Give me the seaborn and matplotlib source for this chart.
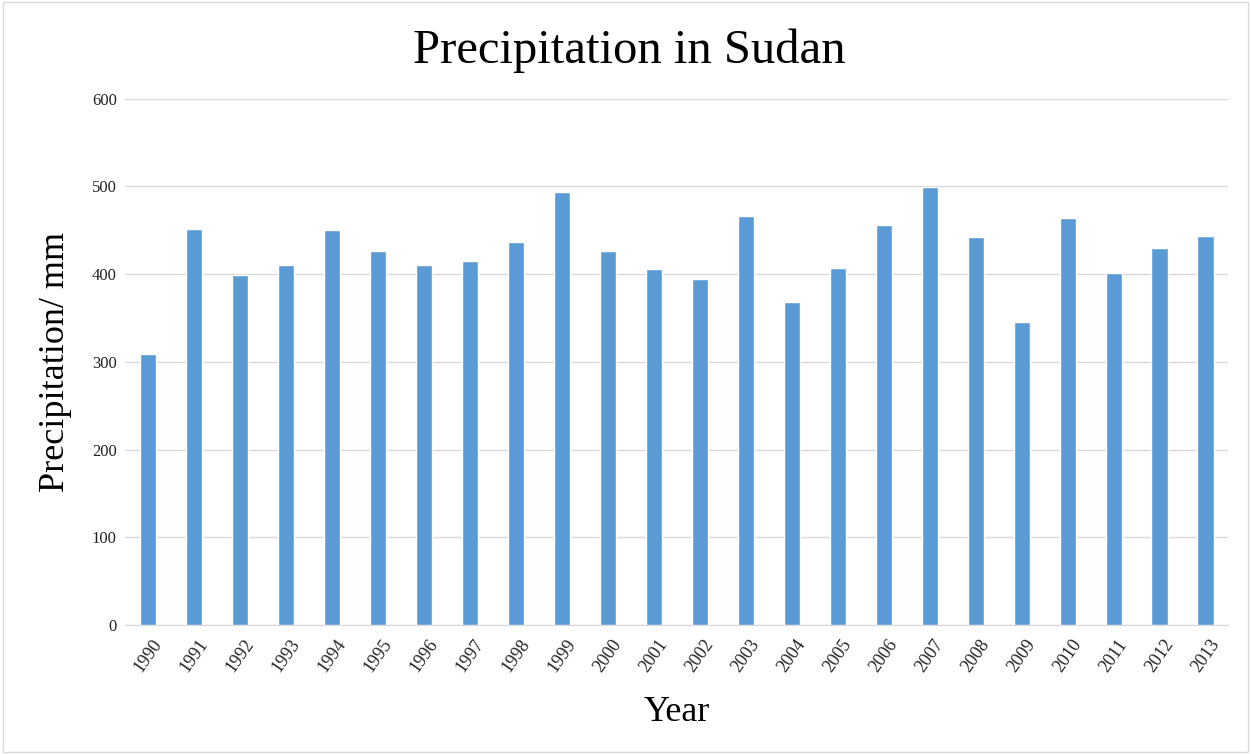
import numpy as np
import pandas as pd
import matplotlib.pyplot as plt
import seaborn as sns

# data
years = [str(y) for y in range(1990, 2014)]
precip = [309, 452, 399, 411, 450, 427, 411, 415, 437, 494, 427, 406,
          394, 466, 368, 407, 456, 499, 442, 346, 464, 401, 430, 444]
y_ticks = [0, 100, 200, 300, 400, 500, 600]

df = pd.DataFrame({"Year": years, "Precipitation": precip})

sns.set_style("white")
plt.rcParams['font.family'] = ['Liberation Serif', 'DejaVu Serif']

fig = plt.figure(figsize=(12.51, 7.54), dpi=100)
ax = fig.add_axes([0.1, 0.171, 0.882, 0.698])

sns.barplot(data=df, x="Year", y="Precipitation", color="#5B9BD5",
            width=0.35, saturation=1, ax=ax, zorder=3)

ax.set_ylim(0, 600)
ax.set_yticks(y_ticks)
ax.yaxis.grid(True, color="#D9D9D9", linewidth=1, zorder=0)
ax.set_axisbelow(True)
for s in ["top", "right", "left"]:
    ax.spines[s].set_visible(False)
ax.spines["bottom"].set_color("#D9D9D9")
ax.tick_params(length=0)
ax.tick_params(axis="y", labelsize=12, colors="#222222", pad=6)
ax.tick_params(axis="x", labelsize=13, colors="#222222", pad=8)
plt.setp(ax.get_xticklabels(), rotation=55, ha="center", va="top",
         rotation_mode="default")

ax.set_xlabel("Year", fontsize=26, labelpad=15, color="black")
ax.set_ylabel("Precipitation/ mm", fontsize=26, labelpad=14, color="black")
fig.suptitle("Precipitation in Sudan", fontsize=35, x=0.503, y=0.962,
             va="top", color="black")

# faint outer border like the original chart area
fig.patches.append(plt.Rectangle((0.002, 0.002), 0.996, 0.996, transform=fig.transFigure,
                                 fill=False, edgecolor="#D9D9D9", linewidth=1))

fig.savefig("out.png", dpi=100)
